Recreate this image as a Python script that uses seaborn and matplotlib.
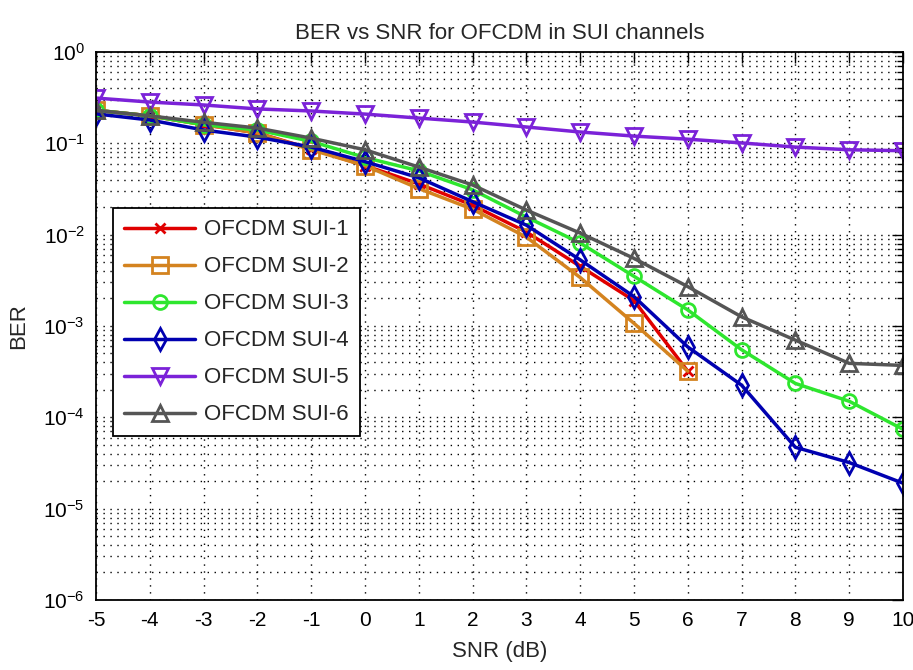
import matplotlib
matplotlib.use("Agg")
import matplotlib.pyplot as plt
import matplotlib.ticker as mticker
import seaborn as sns
import numpy as np

# SNR axis (dB)
snr = [-5, -4, -3, -2, -1, 0, 1, 2, 3, 4, 5, 6, 7, 8, 9, 10]
ber_ticks = [1e-6, 1e-5, 1e-4, 1e-3, 1e-2, 1e-1, 1e0]

# BER values
ber_sui1 = [0.23, 0.20, 0.16, 0.13, 0.087, 0.057, 0.036, 0.021, 0.0107, 0.0045, 0.0019, 0.00032]
ber_sui2 = [0.23, 0.20, 0.16, 0.13, 0.085, 0.057, 0.032, 0.019, 0.0094, 0.0034, 0.00107, 0.00032]
ber_sui3 = [0.23, 0.20, 0.16, 0.14, 0.105, 0.070, 0.050, 0.031, 0.0156, 0.0081, 0.0035, 0.0015,
            0.00055, 0.000235, 0.00015, 7.4e-5]
ber_sui4 = [0.21, 0.18, 0.14, 0.117, 0.091, 0.063, 0.042, 0.023, 0.0127, 0.0053, 0.0021, 0.00059,
            0.000225, 4.7e-5, 3.2e-5, 1.9e-5]
ber_sui5 = [0.313, 0.283, 0.263, 0.238, 0.226, 0.209, 0.189, 0.171, 0.151, 0.133, 0.120, 0.111,
            0.101, 0.091, 0.085, 0.083]
ber_sui6 = [0.23, 0.20, 0.17, 0.147, 0.114, 0.085, 0.055, 0.035, 0.0186, 0.0104, 0.0055, 0.0027,
            0.00126, 0.0007, 0.00039, 0.00037]

labels = ["OFCDM SUI-1", "OFCDM SUI-2", "OFCDM SUI-3", "OFCDM SUI-4", "OFCDM SUI-5", "OFCDM SUI-6"]
series = [ber_sui1, ber_sui2, ber_sui3, ber_sui4, ber_sui5, ber_sui6]
colors = ["#e00000", "#d4831f", "#2ee62e", "#0000b0", "#7b22d8", "#555555"]
markers = ["x", "s", "o", "d", "v", "^"]
msizes = [7, 11, 10, 11, 11, 11]

sns.set_theme(style="white")
plt.rcParams["font.family"] = ["Liberation Sans", "DejaVu Sans"]
plt.rcParams["mathtext.default"] = "regular"
plt.rcParams["axes.unicode_minus"] = False

fig = plt.figure(figsize=(9.13, 6.70), dpi=100)
ax = fig.add_axes([0.1051, 0.1045, 0.989 - 0.1051, 0.9224 - 0.1045])

for lab, vals, c, m, ms in zip(labels, series, colors, markers, msizes):
    sns.lineplot(x=snr[:len(vals)], y=vals, ax=ax, color=c, label=lab, linewidth=2.5,
                 marker=m, markersize=ms, markerfacecolor="none", markeredgecolor=c,
                 markeredgewidth=2)

ax.set_yscale("log")
ax.set_xlim(-5, 10)
ax.set_ylim(1e-6, 1)
ax.set_xticks(snr)
ax.xaxis.set_minor_locator(mticker.NullLocator())
ax.yaxis.set_major_locator(mticker.FixedLocator(ber_ticks))
ax.yaxis.set_minor_locator(mticker.LogLocator(base=10, subs=np.arange(2, 10), numticks=20))
ax.yaxis.set_minor_formatter(mticker.NullFormatter())
ax.yaxis.set_major_formatter(mticker.FuncFormatter(lambda v, _: f"$10^{{{int(round(np.log10(v)))}}}$"))

# MATLAB-like dotted grid
ax.grid(True, which="major", axis="both", color="black", linestyle=(0, (1, 4)), linewidth=1)
ax.grid(True, which="minor", axis="y", color="black", linestyle=(0, (1, 4)), linewidth=1)

ax.tick_params(axis="both", which="both", direction="in", top=True, right=True, colors="black")
ax.tick_params(axis="both", which="major", length=8, width=1, labelsize=15, pad=8)
ax.tick_params(axis="y", which="minor", length=4, width=1)
for sp in ax.spines.values():
    sp.set_color("black")
    sp.set_linewidth(1.3)

ax.set_title("BER vs SNR for OFCDM in SUI channels", fontsize=16, pad=9)
ax.set_xlabel("SNR (dB)", fontsize=16, labelpad=8)
ax.set_ylabel("BER", fontsize=16, labelpad=10)

leg = ax.legend(loc="upper left", bbox_to_anchor=(0.021, 0.715), borderaxespad=0,
                fontsize=16, frameon=True, fancybox=False, edgecolor="black",
                handlelength=3.2, handletextpad=0.4, labelspacing=0.72, borderpad=0.5)
leg.get_frame().set_linewidth(1.3)
leg.get_frame().set_alpha(1)

fig.savefig("out.png", dpi=100, facecolor="white")
